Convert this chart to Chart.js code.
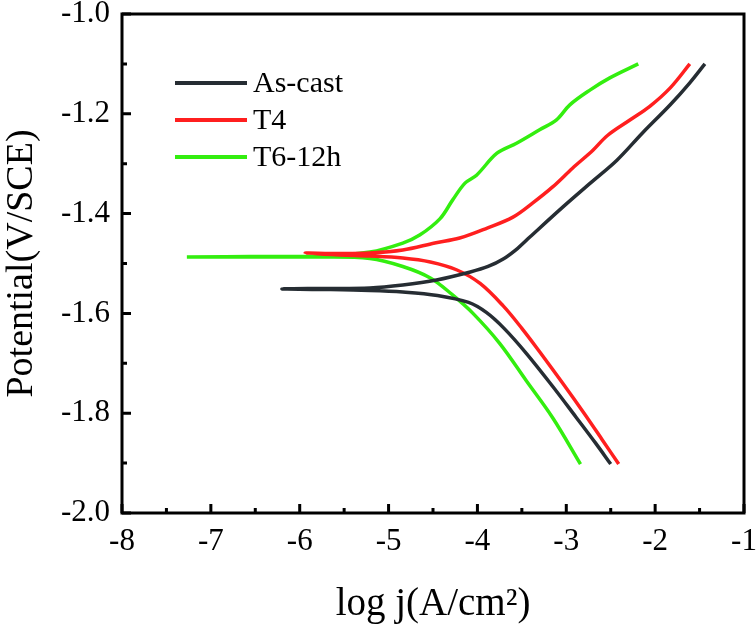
<!DOCTYPE html>
<html>
<head>
<meta charset="utf-8">
<script src="https://cdn.jsdelivr.net/npm/chart.js@4"></script>
<style>
  html, body { margin: 0; padding: 0; background: #fff; }
  #wrap { width: 756px; height: 626px; }
</style>
</head>
<body>
<div id="wrap"><canvas id="tafelChart"></canvas></div>
<script>
// polarization curves: cathodic end -> Ecorr -> anodic end
const seriesNames = ['As-cast', 'T4', 'T6-12h'];
const seriesColors = ['#262d33', '#ff1f1f', '#33ee0f'];

const asCastLogJ = [-2.50, -2.67, -2.89, -3.15, -3.45, -3.70, -3.90, -4.10, -4.45, -4.84, -5.21, -5.77, -6.20,
  -5.77, -5.21, -4.84, -4.46, -4.08, -3.88, -3.71, -3.55, -3.41, -3.04, -2.73, -2.43, -2.14, -1.83, -1.61, -1.44];
const asCastE = [-1.902, -1.860, -1.808, -1.747, -1.680, -1.630, -1.598, -1.578, -1.564, -1.557, -1.554, -1.552, -1.551,
  -1.550, -1.549, -1.543, -1.533, -1.517, -1.506, -1.491, -1.470, -1.447, -1.387, -1.339, -1.293, -1.238, -1.182, -1.138, -1.100];

const t4LogJ = [-2.41, -2.60, -2.80, -3.04, -3.30, -3.50, -3.71, -3.97, -4.23, -4.53, -4.84, -5.21, -5.55, -5.94,
  -5.55, -5.21, -4.84, -4.48, -4.20, -3.89, -3.60, -3.38, -3.15, -2.93, -2.70, -2.54, -2.28, -2.06, -1.83, -1.61];
const t4E = [-1.902, -1.852, -1.800, -1.740, -1.677, -1.630, -1.585, -1.540, -1.513, -1.497, -1.489, -1.485, -1.483, -1.479,
  -1.480, -1.479, -1.473, -1.459, -1.449, -1.429, -1.407, -1.379, -1.346, -1.309, -1.273, -1.244, -1.212, -1.185, -1.148, -1.100];

const t6LogJ = [-2.84, -3.15, -3.45, -3.75, -4.05, -4.28, -4.53, -4.84, -5.21, -5.77, -6.56, -7.27,
  -6.56, -5.77, -5.21, -4.84, -4.65, -4.42, -4.28, -4.14, -4.01, -3.78, -3.56, -3.30, -3.11, -2.96, -2.73, -2.51, -2.19];
const t6E = [-1.902, -1.810, -1.735, -1.660, -1.600, -1.563, -1.529, -1.506, -1.490, -1.487, -1.487, -1.487,
  -1.486, -1.485, -1.477, -1.459, -1.443, -1.410, -1.373, -1.339, -1.323, -1.279, -1.259, -1.232, -1.212, -1.182, -1.152, -1.128, -1.100];

const xTicks = [-8, -7, -6, -5, -4, -3, -2, -1];
const xMinorTicks = [-7.5, -6.5, -5.5, -4.5, -3.5, -2.5, -1.5];
const yTicks = [-2.0, -1.8, -1.6, -1.4, -1.2, -1.0];
const yMinorTicks = [-1.9, -1.7, -1.5, -1.3, -1.1];

function toPoints(xs, ys) {
  return xs.map(function (x, i) { return { x: x, y: ys[i] }; });
}

const allX = [asCastLogJ, t4LogJ, t6LogJ];
const allY = [asCastE, t4E, t6E];

const serif = '"Liberation Serif", "DejaVu Serif", serif';

// frame, inward ticks and the legend box in the upper left
const framePlugin = {
  id: 'framePlugin',
  afterDatasetsDraw(chart) {
    const ctx = chart.ctx;
    const a = chart.chartArea;
    const xs = chart.scales.x;
    const ys = chart.scales.y;
    ctx.save();
    ctx.strokeStyle = '#000';
    ctx.lineWidth = 3;
    ctx.strokeRect(a.left, a.top, a.right - a.left, a.bottom - a.top);

    ctx.beginPath();
    xTicks.forEach(function (v) {
      const px = xs.getPixelForValue(v);
      ctx.moveTo(px, a.bottom); ctx.lineTo(px, a.bottom - 9);
    });
    xMinorTicks.forEach(function (v) {
      const px = xs.getPixelForValue(v);
      ctx.moveTo(px, a.bottom); ctx.lineTo(px, a.bottom - 5);
    });
    yTicks.forEach(function (v) {
      const py = ys.getPixelForValue(v);
      ctx.moveTo(a.left, py); ctx.lineTo(a.left + 9, py);
    });
    yMinorTicks.forEach(function (v) {
      const py = ys.getPixelForValue(v);
      ctx.moveTo(a.left, py); ctx.lineTo(a.left + 5, py);
    });
    ctx.stroke();

    // legend
    ctx.font = '30px ' + serif;
    ctx.textBaseline = 'middle';
    ctx.fillStyle = '#000';
    ctx.lineWidth = 4;
    chart.data.datasets.forEach(function (ds, i) {
      const y = 83 + i * 37;
      ctx.strokeStyle = ds.borderColor;
      ctx.beginPath();
      ctx.moveTo(175, y); ctx.lineTo(247, y);
      ctx.stroke();
      ctx.fillText(ds.label, 253, y + 1);
    });
    ctx.restore();
  }
};

new Chart(document.getElementById('tafelChart').getContext('2d'), {
  type: 'scatter',
  data: {
    datasets: seriesNames.map(function (name, i) {
      return {
        label: name,
        data: toPoints(allX[i], allY[i]),
        showLine: true,
        borderColor: seriesColors[i],
        backgroundColor: seriesColors[i],
        borderWidth: 3.5,
        pointRadius: 0,
        tension: 0.35
      };
    })
  },
  options: {
    responsive: true,
    maintainAspectRatio: false,
    animation: false,
    layout: { padding: { top: 14, right: 12, left: 0, bottom: 0 } },
    plugins: {
      legend: { display: false },
      tooltip: { enabled: false }
    },
    scales: {
      x: {
        type: 'linear',
        min: -8,
        max: -1,
        afterBuildTicks: function (s) { s.ticks = xTicks.map(function (v) { return { value: v }; }); },
        afterFit: function (s) { s.height = 113; s.paddingLeft = 0; s.paddingRight = 0; },
        grid: { display: false, drawTicks: false },
        border: { display: false },
        ticks: {
          color: '#000',
          padding: 10,
          font: { family: serif, size: 31 },
          callback: function (v) { return String(v); }
        },
        title: {
          display: true,
          text: 'log j(A/cm²)',
          color: '#000',
          font: { family: serif, size: 39, lineHeight: 1 },
          padding: { top: 0, bottom: 2 }
        }
      },
      y: {
        type: 'linear',
        min: -2.0,
        max: -1.0,
        afterBuildTicks: function (s) { s.ticks = yTicks.map(function (v) { return { value: v }; }); },
        afterFit: function (s) { s.width = 122; s.paddingTop = 0; s.paddingBottom = 0; },
        grid: { display: false, drawTicks: false },
        border: { display: false },
        ticks: {
          color: '#000',
          padding: 12,
          font: { family: serif, size: 31 },
          callback: function (v) { return v.toFixed(1); }
        },
        title: {
          display: true,
          text: 'Potential(V/SCE)',
          color: '#000',
          font: { family: serif, size: 38, lineHeight: 1 },
          padding: { top: 3, bottom: 0 }
        }
      }
    }
  },
  plugins: [framePlugin]
});
</script>
</body>
</html>
